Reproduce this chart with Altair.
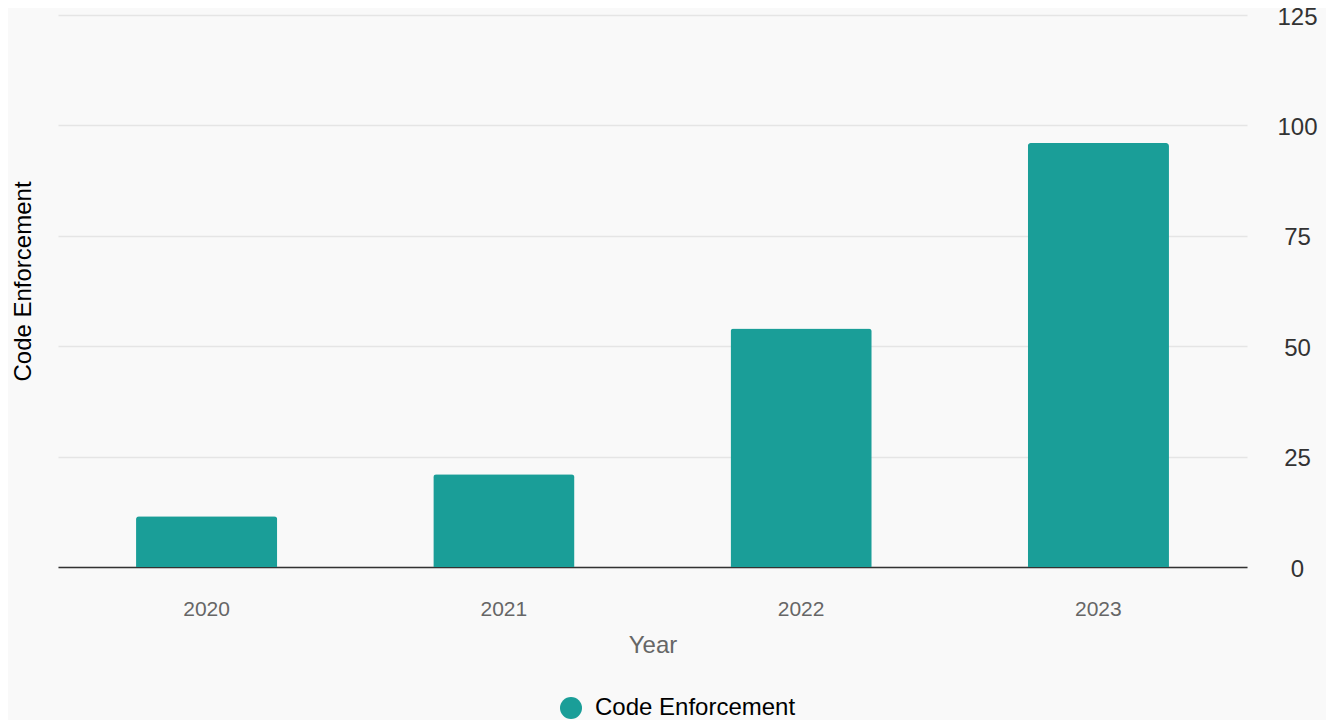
import altair as alt
import pandas as pd

years = ["2020", "2021", "2022", "2023"]
values = [11.5, 21, 54, 96]
series = ["Code Enforcement"] * 4

df = pd.DataFrame({"Year": years, "Value": values, "Series": series})

FONT = "Liberation Sans"
TEAL = "#1a9e98"

base = alt.Chart(df)

x_axis = alt.Axis(
    title="Year", labelAngle=0, labelFontSize=21, labelColor="#666666",
    labelFont=FONT, titleFont=FONT, titleFontSize=24, titleColor="#666666",
    titleFontWeight="normal", labelPadding=31, titlePadding=14,
    ticks=False, tickSize=0, domainColor="#333333", domainWidth=1.5, grid=False,
)
x_scale = alt.Scale(paddingInner=0.525, paddingOuter=0.2625)

y_scale = alt.Scale(domain=[0, 125])

bars = base.mark_bar(cornerRadiusTopLeft=3, cornerRadiusTopRight=3).encode(
    x=alt.X("Year:N", sort=years, scale=x_scale, axis=x_axis),
    y=alt.Y(
        "Value:Q",
        scale=y_scale,
        axis=alt.Axis(
            orient="right", title=None, values=[0, 25, 50, 75, 100, 125],
            labelFontSize=24, labelColor="#333333", labelFont=FONT,
            labelAlign="center", labelBaseline="middle", labelPadding=50,
            labelOffset=2,
            ticks=False, tickSize=0, domain=False, grid=True,
            gridColor="#e5e5e5", gridWidth=1.5,
        ),
    ),
    color=alt.Color(
        "Series:N",
        scale=alt.Scale(domain=["Code Enforcement"], range=[TEAL]),
        legend=alt.Legend(
            orient="none", legendX=501, legendY=681, title=None,
            symbolType="circle", symbolSize=484, symbolStrokeWidth=0,
            symbolOpacity=1, labelFontSize=24, labelFont=FONT,
            labelColor="#000000", labelOffset=12, padding=0,
            labelLimit=0, direction="horizontal",
        ),
    ),
)

left_title = base.mark_bar(opacity=0).encode(
    x=alt.X("Year:N", sort=years, scale=x_scale, axis=x_axis),
    y=alt.Y(
        "Value:Q",
        scale=y_scale,
        axis=alt.Axis(
            orient="left", title="Code Enforcement", labels=False, ticks=False,
            tickSize=0, domain=False, grid=False, titleFont=FONT,
            titleFontSize=24, titleColor="#000000", titleFontWeight="normal",
            titlePadding=23, titleY=266,
        ),
    ),
)

chart = alt.layer(bars, left_title).properties(
    width=1189,
    height=552,
    padding={"left": 50, "top": 7, "right": 79, "bottom": 153},
    autosize=alt.AutoSizeParams(type="none"),
    background="#f9f9f9",
).configure_view(stroke=None)

chart.save("out.html", embed_options={"renderer": "svg", "actions": False})
